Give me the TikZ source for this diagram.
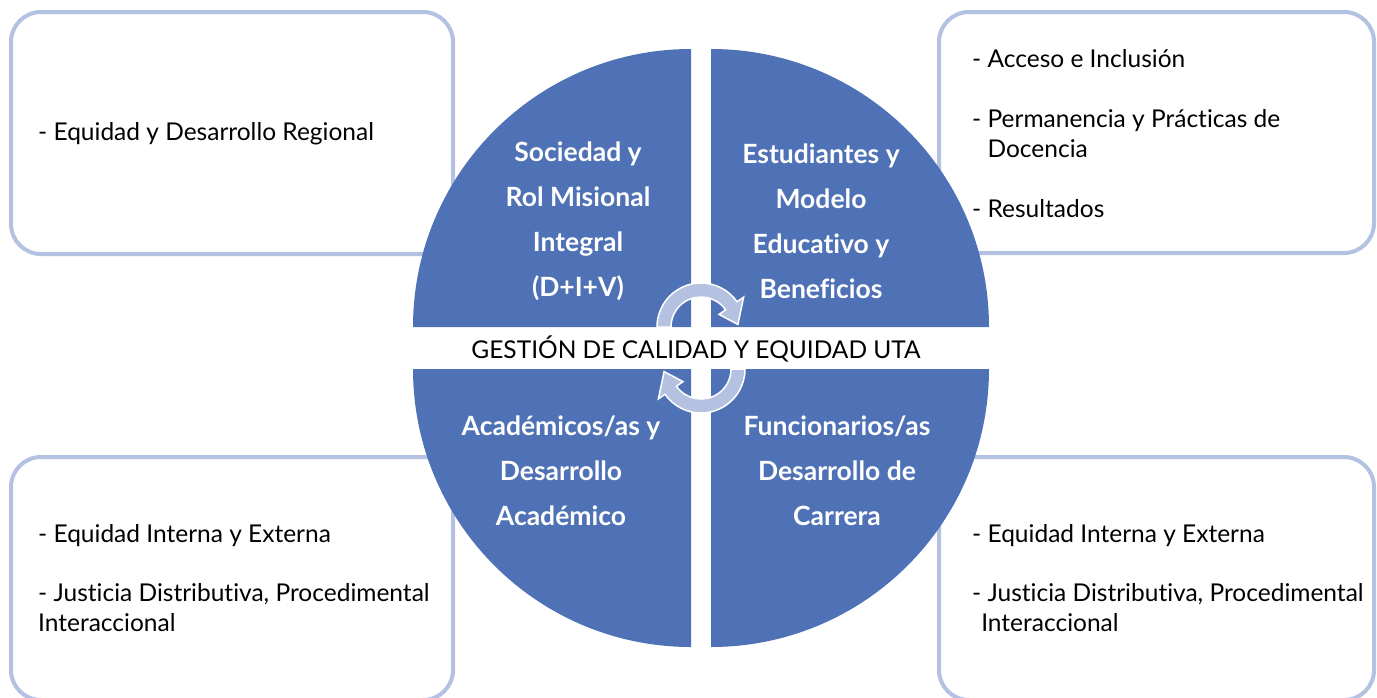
\documentclass[tikz,border=0pt]{standalone}
\usepackage{fontspec}
\setmainfont{Lato}[Ligatures=NoCommon]
\definecolor{quadblue}{RGB}{79,113,181}
\definecolor{boxline}{RGB}{180,194,226}
\definecolor{arrowfill}{RGB}{180,193,225}
\begin{document}
\begin{tikzpicture}[x=1pt,y=-1pt,
  infobox/.style={draw=boxline, line width=4pt, rounded corners=30pt, fill=white, inner sep=0pt},
  quadtext/.style={text=white, font=\fontsize{26.5}{45}\selectfont\bfseries, align=center, inner sep=0pt},
  listtext/.style={text=black, font=\fontsize{24.5}{30}\selectfont, align=left, anchor=west, inner sep=0pt},
  centertext/.style={text=black, font=\fontsize{24.5}{28}\selectfont, inner sep=0pt},
  cyc/.style={fill=arrowfill, draw=white, line width=1.5pt}]
\useasboundingbox (0,0) rectangle (1377,697);

% outer boxes
\node[infobox, minimum width=442pt, minimum height=242pt] (boxTL) at (232,133) {};
\node[infobox, minimum width=435pt, minimum height=241pt] (boxTR) at (1156.5,132.5) {};
\node[infobox, minimum width=442pt, minimum height=243pt] (boxBL) at (232,578.5) {};
\node[infobox, minimum width=435pt, minimum height=243pt] (boxBR) at (1156.5,578.5) {};

% quadrants
\fill[quadblue] (691,327) -- (413,327) arc[start angle=180, end angle=270, radius=278] -- cycle;
\fill[quadblue] (711,327) -- (711,49) arc[start angle=270, end angle=360, radius=278] -- cycle;
\fill[quadblue] (691,369) -- (691,647) arc[start angle=90, end angle=180, radius=278] -- cycle;
\fill[quadblue] (711,369) -- (989,369) arc[start angle=0, end angle=90, radius=278] -- cycle;

% circular arrows
\fill[cyc] ([shift={(701,327)}]180:44) arc[start angle=180, end angle=325, radius=44]
  -- ([shift={(701,327)}]325:52) -- ([shift={(701,327)}]356:37)
  -- ([shift={(701,327)}]325:22) -- ([shift={(701,327)}]325:30)
  arc[start angle=325, end angle=180, radius=30] -- cycle;
\fill[cyc] ([shift={(701,369)}]0:44) arc[start angle=0, end angle=145, radius=44]
  -- ([shift={(701,369)}]145:52) -- ([shift={(701,369)}]176:37)
  -- ([shift={(701,369)}]145:22) -- ([shift={(701,369)}]145:30)
  arc[start angle=145, end angle=0, radius=30] -- cycle;

% quadrant texts
\node[quadtext] (qTL) at (578,221) {Sociedad y\\Rol Misional\\Integral\\(D+I+V)};
\node[quadtext] (qTR) at (821,221) {Estudiantes y\\Modelo\\Educativo y\\Beneficios};
\node[quadtext] (qBL) at (561,471) {Académicos/as y\\Desarrollo\\Académico};
\node[quadtext] (qBR) at (837,471) {Funcionarios/as\\Desarrollo de\\Carrera};

% center text
\node[centertext] (center) at (696,349) {GESTIÓN DE CALIDAD Y EQUIDAD UTA};

% list texts
\node[listtext] (tTL) at (38,134) {- Equidad y Desarrollo Regional};
\node[listtext] (tTR) at (972,134) {- Acceso e Inclusión\\[30pt]- Permanencia y Prácticas de\\\hphantom{- }Docencia\\[30pt]- Resultados};
\node[listtext] (tBL) at (38,578) {- Equidad Interna y Externa\\[29pt]- Justicia Distributiva, Procedimental\\Interaccional};
\node[listtext] (tBR) at (972,578) {- Equidad Interna y Externa\\[29pt]- Justicia Distributiva, Procedimental\\\hphantom{-}Interaccional};
\end{tikzpicture}
\end{document}
